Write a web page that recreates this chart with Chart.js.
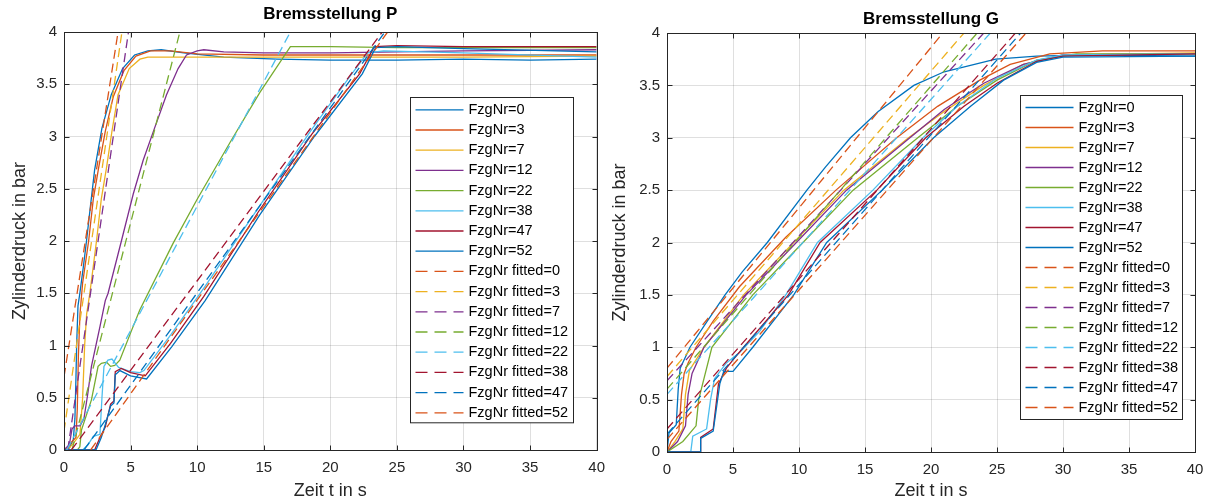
<!DOCTYPE html>
<html>
<head>
<meta charset="utf-8">
<script src="https://cdn.jsdelivr.net/npm/chart.js@4.4.1/dist/chart.umd.min.js"></script>
<style>
  body { margin: 0; background: #fff; }
  canvas { position: absolute; top: 0; }
  #chartP { left: 0; }
  #chartG { left: 605px; }
</style>
</head>
<body>
<canvas id="chartP" width="605" height="504"></canvas>
<canvas id="chartG" width="610" height="504"></canvas>
<script>
// vehicle numbers shown in the legend
const fzgNr = [0, 3, 7, 12, 22, 38, 47, 52];
const xTicks = [0, 5, 10, 15, 20, 25, 30, 35, 40];
const yTicks = [0, 0.5, 1, 1.5, 2, 2.5, 3, 3.5, 4];

// Bremsstellung P, measured cylinder pressure [t in s, p in bar]
const pNr0 = [[0,0],[0.4,0.02],[0.7,0.1],[0.82,0.3],[0.9,0.7],[0.95,1.0],[1.05,1.38],[1.19,1.5],[1.45,1.75],[1.69,2.0],[2.0,2.35],[2.3,2.68],[2.85,3.08],[3.55,3.4],[4.4,3.65],[5.3,3.78],[6.3,3.82],[7.3,3.83],[9,3.8],[12,3.76],[16,3.74],[20,3.73],[25,3.73],[30,3.74],[35,3.73],[40,3.74]];
const pNr3 = [[0,0],[0.3,0.03],[0.6,0.08],[0.9,0.12],[1.0,0.4],[1.08,0.9],[1.2,1.3],[1.4,1.6],[1.85,2.0],[2.2,2.4],[2.6,2.7],[3.1,3.05],[3.7,3.38],[4.5,3.63],[5.4,3.77],[6.5,3.82],[8,3.82],[10,3.79],[15,3.78],[20,3.78],[30,3.78],[40,3.78]];
const pNr7 = [[0,0],[0.4,0.02],[0.8,0.08],[1.2,0.15],[1.4,0.5],[1.55,1.0],[1.7,1.3],[1.94,1.5],[2.44,2.0],[2.8,2.4],[3.19,2.7],[3.6,3.05],[4.06,3.4],[4.9,3.65],[5.7,3.74],[6.3,3.76],[10,3.76],[20,3.76],[30,3.76],[40,3.77]];
const pNr12 = [[0,0],[0.4,0.05],[0.6,0.2],[0.8,0.23],[1.2,0.23],[1.5,0.3],[1.8,0.55],[2.06,0.8],[2.7,1.18],[3.1,1.43],[3.31,1.5],[4.31,2.0],[5.2,2.45],[5.94,2.77],[6.8,3.08],[7.7,3.4],[8.57,3.65],[9.2,3.78],[10.0,3.82],[10.5,3.83],[12,3.81],[15,3.8],[20,3.8],[25,3.81],[30,3.82],[40,3.83]];
const pNr22 = [[0,0],[1.0,0],[1.19,0.03],[1.31,0.19],[2.06,0.48],[2.56,0.8],[2.81,0.83],[3.2,0.84],[3.5,0.8],[3.81,0.81],[4.19,0.86],[5.06,1.14],[5.69,1.34],[8.2,1.98],[10.0,2.4],[12.5,2.95],[14.7,3.42],[17.0,3.86],[20,3.86],[25,3.85],[30,3.85],[40,3.85]];
const pNr38 = [[0,0],[1.4,0],[1.8,0.05],[2.2,0.13],[2.7,0.15],[2.85,0.5],[3.0,0.8],[3.3,0.86],[3.6,0.87],[4.1,0.79],[5.0,0.75],[5.7,0.74],[6.0,0.76],[8,1.1],[10.5,1.55],[14.5,2.3],[18.5,3.05],[21.5,3.58],[22.8,3.8],[24,3.82],[30,3.8],[40,3.76]];
const pNr47 = [[0,0],[2.3,0],[2.7,0.12],[3.1,0.22],[3.5,0.44],[3.75,0.47],[3.85,0.75],[4.3,0.78],[5.0,0.74],[6.1,0.71],[8.0,1.02],[10.5,1.47],[14.6,2.28],[18.6,3.02],[22.2,3.6],[23.3,3.86],[25,3.87],[30,3.86],[35,3.86],[40,3.86]];
const pNr52 = [[0,0],[2.4,0],[2.6,0.06],[2.8,0.12],[3.0,0.2],[3.5,0.42],[3.75,0.45],[3.85,0.72],[4.2,0.76],[5.0,0.71],[6.2,0.68],[8.1,0.99],[10.6,1.43],[14.7,2.25],[18.8,3.0],[22.4,3.6],[23.4,3.85],[25,3.86],[30,3.84],[40,3.81]];

// Bremsstellung P, fitted straight lines (start and end point)
const pFit0 = [[0,0.7],[4.06,4]];
const pFit3 = [[0,0.18],[4.35,4]];
const pFit7 = [[0.28,0],[4.84,4]];
const pFit12 = [[0.6,0],[8.7,4]];
const pFit22 = [[0.2,0],[17.0,4]];
const pFit38 = [[0.55,0],[23.9,4]];
const pFit47 = [[1.5,0],[24.1,4]];
const pFit52 = [[2.0,0],[24.3,4]];

// Bremsstellung G, measured cylinder pressure
const gNr0 = [[0,0],[0.15,0.18],[0.7,0.26],[0.85,0.6],[1.0,0.8],[1.3,0.88],[1.74,1.0],[3,1.24],[4.4,1.5],[5.7,1.72],[7.6,2.0],[10.6,2.5],[12,2.72],[13.9,3.0],[16,3.25],[18.7,3.5],[21,3.63],[24.9,3.75],[28,3.78],[32,3.79],[40,3.78]];
const gNr3 = [[0,0],[0.3,0.1],[0.9,0.2],[1.1,0.55],[1.3,0.75],[1.6,0.85],[2.2,1.0],[3.5,1.25],[5.5,1.58],[9,2.05],[12.8,2.5],[17.4,3.0],[20.5,3.3],[23.7,3.55],[26,3.7],[29,3.8],[33,3.83],[40,3.83]];
const gNr7 = [[0,0],[0.6,0.1],[1.2,0.22],[1.4,0.55],[1.7,0.78],[2.8,1.0],[5.8,1.5],[9.6,2.0],[13.4,2.5],[18.3,3.0],[21,3.25],[24,3.5],[27,3.7],[30,3.79],[40,3.81]];
const gNr12 = [[0,0],[0.8,0.1],[1.4,0.25],[1.6,0.55],[1.9,0.75],[2.8,1.0],[6,1.5],[9.8,2.0],[13.6,2.5],[18.4,3.0],[21,3.27],[24,3.52],[27,3.7],[30,3.79],[40,3.8]];
const gNr22 = [[0,0],[1.2,0.1],[2.2,0.25],[2.4,0.5],[2.8,0.7],[3.4,1.0],[6.5,1.5],[10.3,2.0],[14.1,2.5],[19,3.0],[22,3.3],[25,3.55],[28,3.74],[31,3.8],[40,3.8]];
const gNr38 = [[0,0],[1.8,0],[1.95,0.15],[3.0,0.22],[3.3,0.5],[3.6,0.7],[4.5,0.85],[5.5,0.95],[7,1.15],[9,1.5],[11.4,2.0],[15.6,2.5],[19.4,3.0],[22,3.3],[25,3.57],[28,3.74],[30,3.79],[40,3.8]];
const gNr47 = [[0,0],[2.5,0],[2.55,0.14],[3.5,0.22],[3.9,0.65],[4.5,0.8],[5,0.88],[5.8,1.0],[9.2,1.5],[11.6,2.0],[15.9,2.5],[19.6,3.0],[22.5,3.3],[25,3.52],[28,3.73],[30,3.78],[40,3.8]];
const gNr52 = [[0,0],[2.5,0],[2.55,0.13],[3.5,0.2],[4.0,0.65],[4.3,0.77],[5.0,0.77],[6.5,1.0],[9.6,1.5],[12.1,2.0],[16.3,2.5],[20.2,3.0],[23,3.3],[25.5,3.55],[28,3.72],[30,3.77],[40,3.78]];

// Bremsstellung G, fitted straight lines
const gFit0 = [[0,0.8],[20.9,4]];
const gFit3 = [[0,0.72],[22.5,4]];
const gFit7 = [[0,0.68],[24,4]];
const gFit12 = [[0,0.6],[23.5,4]];
const gFit22 = [[0,0.55],[24.5,4]];
const gFit38 = [[0,0.22],[26.4,4]];
const gFit47 = [[0,0.17],[26.8,4]];
const gFit52 = [[0,0.12],[27.2,4]];

// MATLAB default line colour order
const lineColors = ['#0072BD', '#D95319', '#EDB120', '#7E2F8E', '#77AC30', '#4DBEEE', '#A2142F'];
const FONT = '"Liberation Sans", Arial, Helvetica, sans-serif';
const AXIS_COLOR = '#262626';

function buildSets(measured, fitted) {
  const sets = [];
  measured.forEach((pts, i) => sets.push({
    label: 'FzgNr=' + fzgNr[i],
    data: pts.map(([x, y]) => ({x, y})),
    borderColor: lineColors[i % 7],
    borderWidth: 1.3
  }));
  fitted.forEach((pts, i) => sets.push({
    label: 'FzgNr fitted=' + fzgNr[i],
    data: pts.map(([x, y]) => ({x, y})),
    borderColor: lineColors[(i + measured.length) % 7],
    borderWidth: 1.3,
    borderDash: [9, 5]
  }));
  // later series are drawn on top
  sets.forEach((s, i) => { s.order = sets.length - i; });
  return sets;
}

// box around the axes with inward tick marks on all sides
const axesBox = {
  id: 'axesBox',
  afterDatasetsDraw(chart) {
    const {ctx, chartArea: a, scales: {x, y}} = chart;
    const l = Math.round(a.left) + 0.5, r = Math.round(a.right) + 0.5;
    const t = Math.round(a.top) + 0.5, b = Math.round(a.bottom) + 0.5;
    ctx.save();
    ctx.strokeStyle = AXIS_COLOR;
    ctx.lineWidth = 1;
    ctx.strokeRect(l, t, r - l, b - t);
    ctx.beginPath();
    x.ticks.forEach(tk => {
      const px = Math.round(x.getPixelForValue(tk.value)) + 0.5;
      ctx.moveTo(px, b); ctx.lineTo(px, b - 5);
      ctx.moveTo(px, t); ctx.lineTo(px, t + 5);
    });
    y.ticks.forEach(tk => {
      const py = Math.round(y.getPixelForValue(tk.value)) + 0.5;
      ctx.moveTo(l, py); ctx.lineTo(l + 5, py);
      ctx.moveTo(r, py); ctx.lineTo(r - 5, py);
    });
    ctx.stroke();
    ctx.restore();
  }
};

// boxed legend inside the plot area
const boxLegend = {
  id: 'boxLegend',
  afterDatasetsDraw(chart, args, opts) {
    const {ctx, chartArea} = chart;
    const sets = chart.data.datasets;
    const h = opts.padTop + (sets.length - 1) * opts.rowHeight + opts.padBottom;
    const x0 = Math.round(chartArea.right - opts.right - opts.width) + 0.5;
    const y0 = Math.round(chartArea.top + opts.top) + 0.5;
    ctx.save();
    ctx.fillStyle = '#fff';
    ctx.fillRect(x0, y0, opts.width, h);
    ctx.strokeStyle = AXIS_COLOR;
    ctx.lineWidth = 1;
    ctx.strokeRect(x0, y0, opts.width, h);
    ctx.font = '14.5px ' + FONT;
    ctx.textBaseline = 'middle';
    sets.forEach((ds, i) => {
      const y = y0 + opts.padTop + i * opts.rowHeight;
      ctx.strokeStyle = ds.borderColor;
      ctx.lineWidth = ds.borderWidth;
      ctx.setLineDash(ds.borderDash ? [12, 7] : []);
      ctx.beginPath();
      ctx.moveTo(x0 + 5, y);
      ctx.lineTo(x0 + 53, y);
      ctx.stroke();
      ctx.setLineDash([]);
      ctx.fillStyle = '#000';
      ctx.fillText(ds.label, x0 + 58, y);
    });
    ctx.restore();
  }
};

function makeChart(id, title, sets, lay) {
  return new Chart(document.getElementById(id), {
    type: 'line',
    data: {datasets: sets},
    plugins: [axesBox, boxLegend],
    options: {
      responsive: false,
      animation: false,
      devicePixelRatio: 1,
      layout: {padding: {left: 0, right: lay.padRight, top: 0, bottom: 0}},
      elements: {point: {radius: 0}, line: {tension: 0, fill: false}},
      plugins: {
        legend: {display: false},
        tooltip: {enabled: false},
        title: {
          display: true,
          fullSize: false,
          text: title,
          color: '#000',
          font: {family: FONT, size: 17, weight: 'bold'},
          padding: lay.titlePad
        },
        boxLegend: lay.legend
      },
      scales: {
        x: {
          type: 'linear',
          min: 0, max: 40,
          afterFit: s => { s.height = lay.xHeight; },
          afterBuildTicks: s => { s.ticks = xTicks.map(v => ({value: v})); },
          ticks: {color: AXIS_COLOR, font: {family: FONT, size: 15}, padding: 0, maxRotation: 0},
          grid: {color: 'rgba(38,38,38,0.15)', drawTicks: true, tickLength: 9, tickColor: 'rgba(0,0,0,0)'},
          border: {display: false},
          title: {display: true, text: 'Zeit t in s', color: AXIS_COLOR,
                  font: {family: FONT, size: 18}, padding: {top: 0, bottom: 2}}
        },
        y: {
          type: 'linear',
          min: 0, max: 4,
          afterFit: s => { s.width = lay.yWidth; },
          afterBuildTicks: s => { s.ticks = yTicks.map(v => ({value: v})); },
          ticks: {color: AXIS_COLOR, font: {family: FONT, size: 15}, padding: 7,
                  callback: v => String(v)},
          grid: {color: 'rgba(38,38,38,0.15)', drawTicks: false},
          border: {display: false},
          title: {display: true, text: 'Zylinderdruck in bar', color: AXIS_COLOR,
                  font: {family: FONT, size: 18}, padding: {top: lay.yTitlePad, bottom: 0}}
        }
      }
    }
  });
}

makeChart('chartP', 'Bremsstellung P',
  buildSets([pNr0, pNr3, pNr7, pNr12, pNr22, pNr38, pNr47, pNr52],
            [pFit0, pFit3, pFit7, pFit12, pFit22, pFit38, pFit47, pFit52]),
  {padRight: 8, xHeight: 54, yWidth: 64, yTitlePad: 9.2,
   titlePad: {top: 3.8, bottom: 7.8},
   legend: {right: 24, top: 65, width: 163, rowHeight: 20.2, padTop: 12.3, padBottom: 10}});

makeChart('chartG', 'Bremsstellung G',
  buildSets([gNr0, gNr3, gNr7, gNr12, gNr22, gNr38, gNr47, gNr52],
            [gFit0, gFit3, gFit7, gFit12, gFit22, gFit38, gFit47, gFit52]),
  {padRight: 20, xHeight: 52, yWidth: 62, yTitlePad: 4.2,
   titlePad: {top: 8.8, bottom: 3.8},
   legend: {right: 13.3, top: 62, width: 162, rowHeight: 20.0, padTop: 12, padBottom: 12}});
</script>
</body>
</html>
